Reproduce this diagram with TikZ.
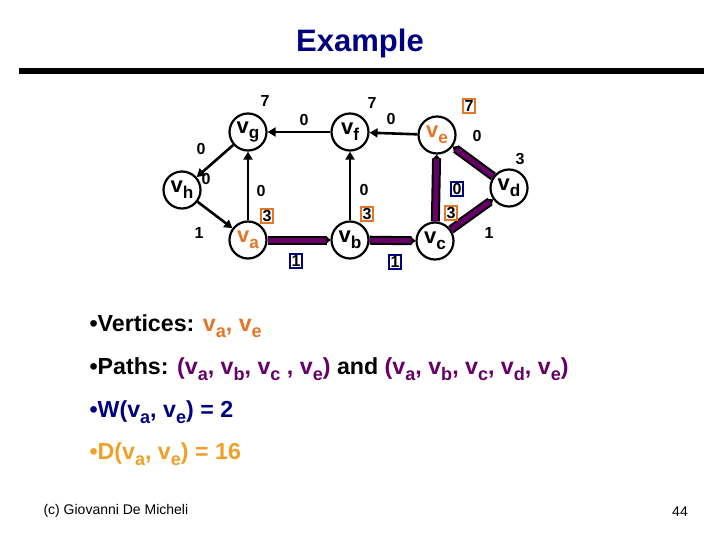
\documentclass[tikz,border=0pt]{standalone}
\usepackage{fontspec}
\setmainfont{Liberation Sans}
\usetikzlibrary{arrows.meta}

\definecolor{titleblue}{RGB}{0,0,128}
\definecolor{hiorange}{RGB}{228,118,40}
\definecolor{pathpurple}{RGB}{102,0,102}
\definecolor{distorange}{RGB}{240,160,40}
\newcommand{\vn}[1]{v\raisebox{-0.5ex}{\scalebox{0.78}{#1}}}

\begin{document}
\begin{tikzpicture}[x=1pt, y=-1pt,
    vertex/.style={draw, circle, line width=2.2pt, minimum size=37pt, inner sep=0pt,
                   font=\fontsize{22}{22}\selectfont\bfseries},
    edge/.style={-{Triangle[length=8pt,width=9pt]}, line width=2.6pt},
    crit/.style={draw=black, double=pathpurple, double distance=5pt, line width=2pt,
                 -{Triangle[length=4pt,width=7pt]}},
    wt/.style={font=\fontsize{16}{16}\selectfont\bfseries, inner sep=1pt},
    dbox/.style={wt, draw=hiorange, line width=2pt, inner sep=1.5pt},
    wbox/.style={wt, draw=titleblue, line width=2pt, inner sep=1.5pt},
    bullet/.style={anchor=base west, font=\fontsize{23.2}{23.2}\selectfont\bfseries}
]
    \useasboundingbox (0,0) rectangle (720,540);

    % title
    \node[text=titleblue, font=\fontsize{31}{31}\selectfont\bfseries] (title) at (360,43) {Example};
    \draw[line width=6pt] (19,71) -- (704,71);

    % vertices
    \node[vertex] (vg) at (248,132) {\vn{g}};
    \node[vertex] (vh) at (182,190) {\vn{h}};
    \node[vertex, text=hiorange] (va) at (248,240) {\vn{a}};
    \node[vertex] (vf) at (350,132) {\vn{f}};
    \node[vertex] (vb) at (350,240) {\vn{b}};
    \node[vertex, text=hiorange] (ve) at (437,135) {\vn{e}};
    \node[vertex] (vc) at (435,241) {\vn{c}};
    \node[vertex] (vd) at (509,188) {\vn{d}};

    % edges
    \draw[edge] (vg) -- (vh);
    \draw[edge] (vh) -- (va);
    \draw[edge] (va) -- (vg);
    \draw[edge] (vf) -- (vg);
    \draw[edge] (vb) -- (vf);
    \draw[edge] (ve) -- (vf);
    \draw[crit] (va) -- (vb);
    \draw[crit] (vb) -- (vc);
    \draw[crit] (vc) -- (ve);
    \draw[crit] (vc) -- (vd);
    \draw[crit] (vd) -- (ve);

    % weights and labels
    \node[wt] (lg) at (265,101) {7};
    \node[wt] (wfg) at (304,120) {0};
    \node[wt] (lf) at (372,103) {7};
    \node[wt] (wef) at (391,119) {0};
    \node[dbox] (le) at (469,106) {7};
    \node[wt] (wed) at (477,136) {0};
    \node[wt] (ld) at (520,159) {3};
    \node[wt] (wgh) at (201,149) {0};
    \node[wt] (lh) at (206,179) {0};
    \node[wt] (wha) at (199,233) {1};
    \node[wt] (wag) at (261,191) {0};
    \node[dbox] (la) at (267,216) {3};
    \node[wbox] (wab) at (296,261) {1};
    \node[wt] (wbf) at (364,190) {0};
    \node[dbox] (lb) at (367,214) {3};
    \node[wbox] (wbc) at (395,262) {1};
    \node[wbox] (wce) at (457,189) {0};
    \node[dbox] (lc) at (451,213) {3};
    \node[wt] (wcd) at (489,233) {1};

    % text
    \node[bullet] (t1) at (86,331) {\textbullet Vertices: \textcolor{hiorange}{\vn{a}, \vn{e}}};
    \node[bullet] (t2) at (86,374) {\textbullet Paths: \textcolor{pathpurple}{(\vn{a}, \vn{b}, \vn{c} , \vn{e})} and \textcolor{pathpurple}{(\vn{a}, \vn{b}, \vn{c}, \vn{d}, \vn{e})}};
    \node[bullet, text=titleblue] (t3) at (86,417) {\textbullet W(\vn{a}, \vn{e}) = 2};
    \node[bullet, text=distorange] (t4) at (86,459) {\textbullet D(\vn{a}, \vn{e}) = 16};

    \node[anchor=west, font=\fontsize{14}{14}\selectfont] (credit) at (40,511) {(c) Giovanni De Micheli};
    \node[font=\fontsize{14}{14}\selectfont] (page) at (680,512) {44};
\end{tikzpicture}
\end{document}
